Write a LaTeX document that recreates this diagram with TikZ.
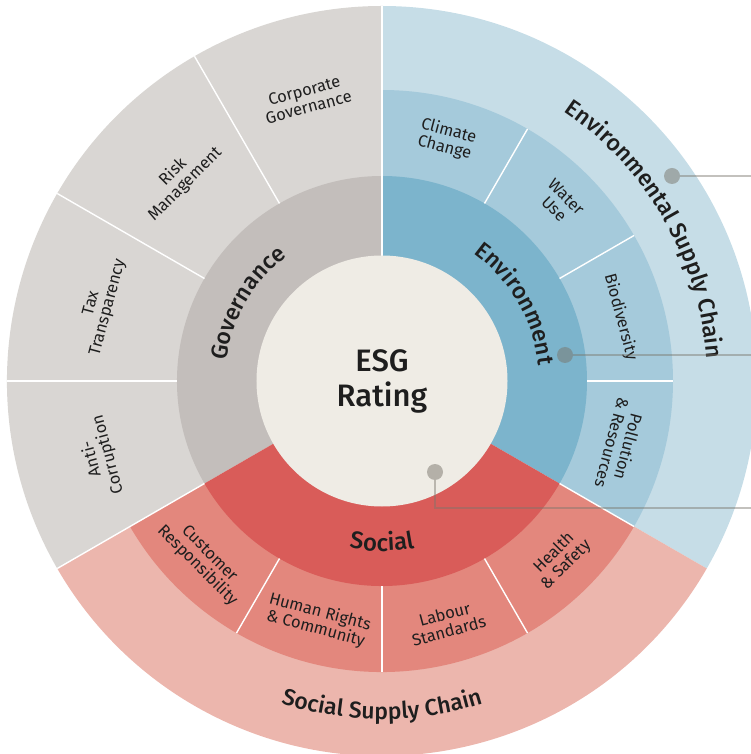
\documentclass[tikz,border=0pt]{standalone}
\usepackage{fontspec}
\setmainfont{Fira Sans}
\newfontfamily\labelfont{Fira Sans Medium}
\usetikzlibrary{decorations.text}

\definecolor{cream}{HTML}{EFECE5}
\definecolor{govmid}{HTML}{C3BEBB}
\definecolor{govouter}{HTML}{D9D6D3}
\definecolor{envmid}{HTML}{7CB4CC}
\definecolor{envsub}{HTML}{A5CADB}
\definecolor{envchain}{HTML}{C6DDE7}
\definecolor{socmid}{HTML}{D95C59}
\definecolor{socsub}{HTML}{E3877D}
\definecolor{socchain}{HTML}{ECB6AD}
\definecolor{inkblack}{HTML}{1E1E1E}
\definecolor{linkgray}{HTML}{7A766C}

% ring piece: colour, from angle, to angle, inner radius, outer radius
\newcommand{\ringpart}[5]{%
  \fill[#1] (#2:#4) arc[start angle=#2, end angle=#3, radius=#4]
    -- (#3:#5) arc[start angle=#3, end angle=#2, radius=#5] -- cycle;}

% curved label: radius, from angle, to angle, font size, text
\newcommand{\arclabel}[5]{%
  \path[decorate, decoration={text along path, text align=center,
    text color=inkblack, text={|\labelfont\fontsize{#4}{#4}\selectfont|#5}}]
    (#2:#1) arc[start angle=#2, end angle=#3, radius=#1];}

\begin{document}
\begin{tikzpicture} [x = 1pt, y = 1pt,
	subtopic/.style = {align = center, inner sep = 0pt, text = inkblack, font = \fontsize{16.5}{17}\selectfont},
	hub/.style = {circle, fill = cream, inner sep = 0pt, minimum size = 251pt, align = center, text = inkblack,
		font = \labelfont\fontsize{31}{35}\selectfont},
	dot/.style = {circle, fill = linkgray, opacity = 0.5, inner sep = 0pt, minimum size = 16pt},
	link/.style = {draw = linkgray, opacity = 0.45, line width = 2.5pt},
	divider/.style = {white, line width = 1.4pt}]
		% Frame of the picture
		\useasboundingbox (-382,-373) rectangle (369,381);

		% Supply chain and governance outer ring
		\ringpart{govouter}{90}{210}{204}{375}
		\ringpart{envchain}{-30}{90}{290}{375}
		\ringpart{socchain}{210}{330}{290}{375}

		% Topic rings
		\ringpart{envsub}{-30}{90}{204}{291}
		\ringpart{socsub}{210}{330}{204}{291}

		% Middle ring
		\ringpart{govmid}{90}{210}{124}{205}
		\ringpart{envmid}{-30}{90}{124}{205}
		\ringpart{socmid}{210}{330}{124}{205}

		% White dividers
		\foreach \a in {0, 30, 60, 240, 270, 300, -30}
			\draw [divider] (\a:205) -- (\a:291);
		\foreach \a in {120, 150, 180, 210}
			\draw [divider] (\a:205) -- (\a:375);
		\draw [divider] (90:124) -- (90:375);

		% Centre Node
		\node (rating) [hub] at (0,0) {ESG\\Rating};

		% Curved labels
		\arclabel{157}{210}{90}{23}{Governance}
		\arclabel{157}{90}{-30}{23}{Environment}
		\arclabel{170}{-150}{-30}{24}{Social}
		\arclabel{325}{90}{-30}{23}{Environmental Supply Chain}
		\arclabel{338}{-150}{-30}{23}{Social Supply Chain}

		% Governance topics
		\node (corporate) [subtopic, rotate = 15] at (105:292) {Corporate\\Governance};
		\node (risk) [subtopic, rotate = 45] at (135:287) {Risk\\Management};
		\node (tax) [subtopic, rotate = 75] at (165:292) {Tax\\Transparency};
		\node (anti) [subtopic, rotate = 105] at (195:292) {Anti-\\Corruption};

		% Environment topics
		\node (climate) [subtopic, rotate = -15] at (75:250) {Climate\\Change};
		\node (water) [subtopic, rotate = -45] at (45:252) {Water\\Use};
		\node (biodiv) [subtopic, rotate = -75] at (15:247) {Biodiversity};
		\node (pollution) [subtopic, rotate = -105] at (-15:247) {Pollution\\\& Resources};

		% Social topics
		\node (health) [subtopic, rotate = 45] at (-45:252) {Health\\\& Safety};
		\node (labour) [subtopic, rotate = 15] at (-75:250) {Labour\\Standards};
		\node (rights) [subtopic, rotate = -15] at (-105:248) {Human Rights\\\& Community};
		\node (customer) [subtopic, rotate = -45] at (-135:253) {Customer\\Responsibility};

		% Pointer dots and their lines
		\node (chaindot) [dot] at (290,205) {};
		\node (envdot) [dot] at (183,26) {};
		\node (ratingdot) [dot] at (53,-91) {};
		\coordinate (chainend) at (375,205);
		\coordinate (envend) at (375,26);
		\coordinate (ratingend) at (375,-127);

		\draw [link] (chaindot.east) -- (chainend);
		\draw [link] (envdot.east) -- (envend);
		\draw [link] (ratingdot.south) |- (ratingend);
	\end{tikzpicture}
\end{document}
